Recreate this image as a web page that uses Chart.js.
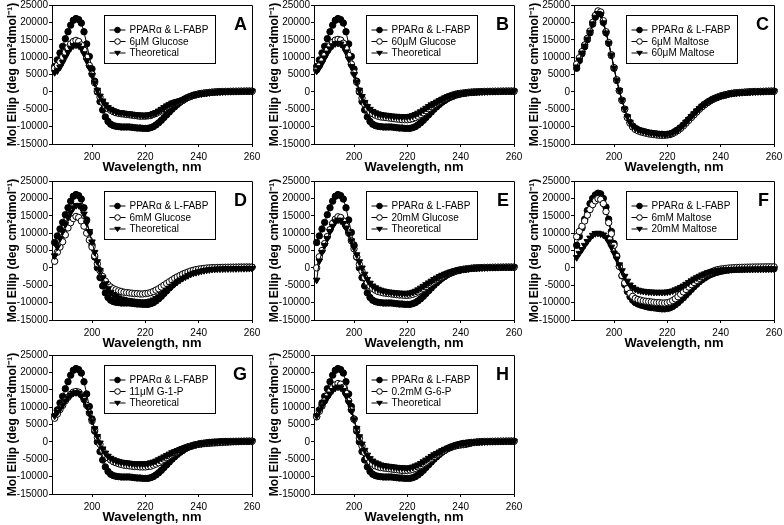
<!DOCTYPE html>
<html>
<head>
<meta charset="utf-8">
<script src="https://cdn.jsdelivr.net/npm/chart.js@4/dist/chart.umd.min.js"></script>
<style>
  body { margin: 0; background: #fff; width: 784px; height: 525px; position: relative; overflow: hidden; }
  .panel { position: absolute; width: 262px; height: 175px; }
</style>
</head>
<body>
<script>
// wavelength, nm (one reading per nm)
const wavelength = [
  186, 187, 188, 189, 190, 191, 192, 193, 194, 195, 196, 197, 198, 199, 200,
  201, 202, 203, 204, 205, 206, 207, 208, 209, 210, 211, 212, 213, 214, 215,
  216, 217, 218, 219, 220, 221, 222, 223, 224, 225, 226, 227, 228, 229, 230,
  231, 232, 233, 234, 235, 236, 237, 238, 239, 240, 241, 242, 243, 244, 245,
  246, 247, 248, 249, 250, 251, 252, 253, 254, 255, 256, 257, 258, 259, 260
];
const xTicks = [200, 220, 240, 260];
const yTicks = { min: -15000, max: 25000, step: 5000 };

// PPARα & L-FABP alone (panels A, B, D, E, G, H)
const complexAlone = [
  7300, 9200, 11200, 13100, 15300, 17300, 19200, 20600, 21100, 20800, 19800, 17300, 13800, 10200, 6600,
  3100, 0, -2800, -5200, -7200, -8500, -9300, -9700, -9900, -10000, -10100, -10100, -10100, -10100, -10200,
  -10300, -10400, -10400, -10500, -10500, -10500, -10300, -10000, -9500, -8900, -8200, -7400, -6600, -5800, -5000,
  -4300, -3600, -3000, -2500, -2000, -1600, -1300, -1000, -800, -600, -450, -350, -250, -150, -100,
  -50, 0, 50, 80, 100, 120, 140, 150, 160, 170, 180, 190, 200, 200, 200
];
// A
const glucose6uM = [
  6800, 7600, 8700, 10000, 11400, 12700, 13800, 14500, 14800, 14500, 13500, 12000, 10000, 7600, 5100,
  2600, 300, -1500, -3000, -4000, -4800, -5300, -5700, -6000, -6200, -6300, -6400, -6500, -6600, -6700,
  -6800, -6900, -7000, -7000, -7000, -6900, -6800, -6500, -6200, -5800, -5300, -4800, -4300, -3800, -3400,
  -3100, -2900, -2700, -2400, -2000, -1600, -1300, -1000, -800, -600, -500, -400, -300, -200, -100,
  -50, 0, 50, 80, 100, 120, 140, 150, 160, 170, 180, 190, 200, 200, 200
];
const theoryA = [
  5600, 6100, 7100, 8500, 10000, 11400, 12600, 13300, 13500, 13300, 12500, 11000, 9000, 7000, 4800,
  2600, 500, -1200, -2600, -3700, -4500, -5000, -5400, -5700, -5900, -6000, -6100, -6200, -6300, -6400,
  -6500, -6600, -6600, -6700, -6700, -6600, -6500, -6200, -5900, -5500, -5000, -4500, -4000, -3600, -3200,
  -3000, -2800, -2600, -2300, -1900, -1500, -1200, -950, -750, -600, -500, -400, -300, -200, -100,
  -50, 0, 50, 80, 100, 120, 140, 150, 160, 170, 180, 190, 200, 200, 200
];
// B
const glucose60uM = [
  6300, 7500, 9000, 10500, 12000, 13300, 14300, 14900, 15100, 14900, 14000, 12500, 10500, 8000, 5500,
  2800, 300, -1800, -3500, -4800, -5700, -6300, -6700, -7000, -7200, -7300, -7400, -7500, -7600, -7700,
  -7800, -7900, -8000, -8000, -8000, -7900, -7700, -7400, -7000, -6500, -6000, -5400, -4800, -4200, -3700,
  -3200, -2700, -2300, -1900, -1500, -1200, -900, -700, -500, -400, -300, -200, -100, -50, 0,
  30, 60, 80, 100, 120, 140, 150, 160, 170, 180, 190, 200, 200, 200, 200
];
const theoryB = [
  6000, 7000, 8300, 9800, 11200, 12400, 13300, 13900, 14000, 13800, 13000, 11500, 9500, 7300, 5000,
  2700, 500, -1300, -3000, -4200, -5000, -5600, -6000, -6300, -6500, -6600, -6700, -6800, -6900, -7000,
  -7000, -7100, -7100, -7100, -7100, -7000, -6800, -6500, -6100, -5700, -5200, -4700, -4200, -3700, -3300,
  -2900, -2500, -2100, -1700, -1400, -1100, -900, -700, -500, -400, -300, -200, -100, -50, 0,
  30, 60, 80, 100, 120, 140, 150, 160, 170, 180, 190, 200, 200, 200, 200
];
// C
const complexC = [
  6800, 9000, 11000, 13000, 15000, 17000, 19500, 21500, 22800, 22500, 20000, 17000, 14000, 10500, 6800,
  3300, 300, -2500, -5000, -7200, -8800, -9900, -10500, -10900, -11200, -11400, -11600, -11800, -11900, -12000,
  -12100, -12200, -12200, -12300, -12200, -12100, -11800, -11400, -10900, -10300, -9600, -8800, -8000, -7200, -6400,
  -5600, -4900, -4200, -3600, -3100, -2600, -2100, -1800, -1500, -1200, -1000, -800, -600, -450, -350,
  -250, -200, -150, -100, -50, 0, 50, 80, 100, 120, 140, 160, 180, 200, 200
];
const maltose6uM = [
  8000, 9800, 11600, 13500, 15400, 17500, 20000, 22000, 23300, 23000, 20500, 17300, 14200, 10700, 7000,
  3500, 400, -2400, -5000, -7400, -9000, -10100, -10800, -11200, -11500, -11700, -11900, -12100, -12200, -12300,
  -12400, -12500, -12500, -12500, -12400, -12300, -12000, -11600, -11100, -10500, -9800, -9000, -8200, -7400, -6600,
  -5800, -5000, -4300, -3700, -3100, -2600, -2200, -1800, -1500, -1200, -1000, -800, -600, -450, -350,
  -250, -200, -150, -100, -50, 0, 50, 80, 100, 120, 140, 160, 180, 200, 200
];
const maltose60uM = [
  7200, 9200, 11200, 13200, 15200, 17200, 19600, 21500, 22600, 22300, 19900, 17000, 14000, 10600, 6900,
  3400, 400, -2400, -4900, -7100, -8700, -9800, -10400, -10800, -11100, -11300, -11500, -11700, -11800, -11900,
  -12000, -12100, -12100, -12200, -12100, -12000, -11700, -11300, -10800, -10200, -9500, -8700, -7900, -7100, -6300,
  -5500, -4800, -4100, -3500, -3000, -2500, -2100, -1800, -1500, -1200, -1000, -800, -600, -450, -350,
  -250, -200, -150, -100, -50, 0, 50, 80, 100, 120, 140, 160, 180, 200, 200
];
// D
const glucose6mM = [
  1900, 4500, 6000, 7500, 9500, 11500, 13000, 14200, 14800, 14500, 13500, 12000, 10000, 8000, 6000,
  3500, 1200, -800, -2500, -3800, -4800, -5500, -6000, -6300, -6600, -6800, -7000, -7100, -7200, -7300,
  -7400, -7400, -7500, -7500, -7400, -7300, -7100, -6800, -6400, -6000, -5500, -5000, -4500, -4000, -3500,
  -3000, -2600, -2200, -1800, -1500, -1200, -900, -700, -500, -350, -250, -150, -50, 0, 50,
  80, 100, 120, 140, 150, 160, 170, 180, 190, 200, 200, 200, 200, 200, 200
];
const theoryD = [
  3500, 6000, 8500, 10500, 12500, 14500, 16000, 17300, 18000, 18000, 17200, 15500, 13000, 10500, 7500,
  4500, 1800, -700, -2800, -4600, -6000, -7000, -7700, -8200, -8600, -8900, -9100, -9300, -9400, -9500,
  -9600, -9700, -9800, -9800, -9800, -9700, -9500, -9200, -8800, -8300, -7700, -7100, -6400, -5800, -5200,
  -4600, -4000, -3500, -3000, -2600, -2200, -1800, -1500, -1300, -1100, -900, -750, -600, -500, -400,
  -350, -300, -280, -260, -240, -220, -200, -200, -180, -160, -150, -140, -130, -120, -100
];
// E
const glucose20mM = [
  0, 3200, 5000, 7000, 9000, 11000, 12800, 14000, 14700, 14500, 13500, 12000, 10000, 7800, 5500,
  3200, 1000, -1000, -2800, -4200, -5200, -5900, -6400, -6800, -7000, -7200, -7300, -7400, -7500, -7600,
  -7700, -7800, -7800, -7900, -7900, -7800, -7600, -7300, -6900, -6400, -5900, -5400, -4800, -4300, -3800,
  -3300, -2800, -2400, -2000, -1700, -1400, -1100, -900, -700, -500, -400, -300, -200, -100, 0,
  30, 60, 80, 100, 120, 140, 150, 160, 170, 180, 190, 200, 200, 200, 200
];
const theoryE = [
  -3500, 2000, 4500, 6500, 8500, 10500, 12000, 13300, 13800, 13600, 12800, 11500, 9800, 7800, 5800,
  3800, 1800, 0, -1800, -3300, -4400, -5200, -5700, -6100, -6400, -6600, -6800, -6900, -7000, -7100,
  -7200, -7200, -7300, -7300, -7300, -7200, -7000, -6700, -6300, -5800, -5300, -4800, -4300, -3800, -3300,
  -2900, -2500, -2100, -1800, -1500, -1200, -1000, -800, -600, -500, -400, -300, -200, -100, 0,
  30, 60, 80, 100, 120, 140, 150, 160, 170, 180, 190, 200, 200, 200, 200
];
// F
const complexF = [
  6500, 9000, 11500, 14000, 16500, 18500, 20000, 21000, 21500, 21300, 20000, 17500, 14000, 10500, 7000,
  3500, 500, -2300, -4800, -6800, -8300, -9300, -10000, -10400, -10700, -10900, -11100, -11300, -11400, -11500,
  -11600, -11700, -11800, -11800, -11700, -11500, -11100, -10600, -10000, -9300, -8600, -7800, -7000, -6200, -5400,
  -4700, -4000, -3400, -2900, -2400, -2000, -1700, -1400, -1200, -1000, -850, -700, -600, -500, -450,
  -400, -380, -360, -340, -320, -300, -300, -280, -280, -260, -260, -250, -250, -250, -250
];
const maltose6mM = [
  9000, 10500, 12000, 13500, 15200, 16800, 18200, 19300, 19900, 19700, 18500, 16200, 13000, 9800, 6500,
  3300, 400, -2200, -4300, -6000, -7300, -8200, -8800, -9100, -9300, -9500, -9600, -9700, -9800, -9900,
  -10000, -10000, -10100, -10100, -10000, -9800, -9400, -8900, -8300, -7600, -6900, -6200, -5500, -4800, -4200,
  -3600, -3000, -2500, -2000, -1600, -1300, -1000, -700, -500, -350, -250, -150, -50, 0, 50,
  100, 130, 160, 180, 200, 220, 240, 250, 260, 270, 280, 290, 300, 300, 300
];
const maltose20mM = [
  3000, 4200, 5300, 6500, 7600, 8600, 9400, 9900, 10000, 9800, 9500, 8800, 7500, 6000, 4300,
  2600, 900, -800, -2400, -3800, -4900, -5600, -6100, -6400, -6600, -6700, -6800, -6900, -6900, -7000,
  -7000, -7000, -7000, -7000, -6900, -6800, -6600, -6300, -6000, -5600, -5200, -4700, -4200, -3700, -3200,
  -2800, -2400, -2000, -1700, -1400, -1200, -1000, -850, -700, -600, -550, -500, -450, -420, -400,
  -380, -360, -350, -340, -330, -320, -310, -300, -300, -290, -280, -270, -260, -250, -250
];
// G
const g1p11uM = [
  6800, 8000, 9300, 10500, 11800, 12800, 13700, 14300, 14500, 14300, 13500, 12200, 10500, 8300, 6000,
  3600, 1300, -700, -2400, -3700, -4600, -5200, -5700, -6000, -6300, -6500, -6700, -6800, -6900, -7000,
  -7100, -7100, -7200, -7200, -7200, -7100, -7000, -6700, -6400, -6000, -5500, -5000, -4500, -4000, -3500,
  -3100, -2700, -2300, -2000, -1700, -1400, -1200, -1000, -800, -700, -600, -500, -450, -400, -350,
  -300, -250, -200, -150, -100, -50, 0, 50, 80, 100, 120, 140, 160, 180, 200
];
const theoryG = [
  7500, 8500, 9500, 10600, 11700, 12700, 13500, 14000, 14200, 14000, 13300, 12000, 10300, 8200, 6000,
  3800, 1600, -300, -2000, -3200, -4100, -4700, -5100, -5400, -5600, -5800, -5900, -6000, -6100, -6200,
  -6300, -6300, -6300, -6300, -6300, -6200, -6000, -5800, -5500, -5100, -4700, -4300, -3900, -3500, -3100,
  -2800, -2500, -2200, -1900, -1600, -1400, -1200, -1000, -800, -600, -500, -400, -300, -200, -100,
  -50, 0, 50, 80, 100, 120, 140, 150, 160, 170, 180, 190, 200, 200, 200
];
// H
const g6p02mM = [
  7200, 8800, 10300, 11800, 13200, 14500, 15600, 16400, 16800, 16600, 15700, 14000, 11800, 9200, 6500,
  3700, 1100, -1200, -3100, -4600, -5700, -6400, -6900, -7200, -7400, -7500, -7600, -7700, -7800, -7900,
  -8000, -8100, -8200, -8200, -8200, -8100, -7900, -7600, -7200, -6800, -6300, -5800, -5200, -4700, -4200,
  -3700, -3200, -2800, -2400, -2000, -1700, -1400, -1200, -1000, -900, -800, -700, -500, -300, -200,
  -100, 0, 50, 80, 100, 120, 140, 150, 160, 170, 180, 190, 200, 200, 200
];
const theoryH = [
  7500, 9000, 10300, 11500, 12700, 13800, 14800, 15500, 15800, 15600, 14800, 13300, 11300, 8900, 6400,
  3900, 1500, -600, -2400, -3800, -4800, -5500, -6000, -6300, -6600, -6800, -6900, -7000, -7100, -7200,
  -7300, -7400, -7400, -7500, -7500, -7400, -7200, -6900, -6600, -6200, -5700, -5200, -4700, -4200, -3700,
  -3300, -2900, -2500, -2100, -1800, -1500, -1200, -1000, -800, -600, -500, -400, -300, -200, -100,
  -50, 0, 50, 80, 100, 120, 140, 150, 160, 170, 180, 190, 200, 200, 200
];

const panelLetters = ['A', 'B', 'C', 'D', 'E', 'F', 'G', 'H'];
const legendA = ['PPARα & L-FABP', '6μM Glucose', 'Theoretical'];
const legendB = ['PPARα & L-FABP', '60μM Glucose', 'Theoretical'];
const legendC = ['PPARα & L-FABP', '6μM Maltose', '60μM Maltose'];
const legendD = ['PPARα & L-FABP', '6mM Glucose', 'Theoretical'];
const legendE = ['PPARα & L-FABP', '20mM Glucose', 'Theoretical'];
const legendF = ['PPARα & L-FABP', '6mM Maltose', '20mM Maltose'];
const legendG = ['PPARα & L-FABP', '11μM G-1-P', 'Theoretical'];
const legendH = ['PPARα & L-FABP', '0.2mM G-6-P', 'Theoretical'];

const panels = [
  { legend: legendA, series: [complexAlone, glucose6uM, theoryA] },
  { legend: legendB, series: [complexAlone, glucose60uM, theoryB] },
  { legend: legendC, series: [complexC, maltose6uM, maltose60uM] },
  { legend: legendD, series: [complexAlone, glucose6mM, theoryD] },
  { legend: legendE, series: [complexAlone, glucose20mM, theoryE] },
  { legend: legendF, series: [complexF, maltose6mM, maltose20mM] },
  { legend: legendG, series: [complexAlone, g1p11uM, theoryG] },
  { legend: legendH, series: [complexAlone, g6p02mM, theoryH] },
];

const FONT = 'Arial, "Liberation Sans", Helvetica, sans-serif';
Chart.defaults.font.family = FONT;
Chart.defaults.color = '#000';

const markers = [
  { pointStyle: 'circle', radius: 3.2, fill: '#000', rotation: 0 },
  { pointStyle: 'circle', radius: 3.2, fill: '#fff', rotation: 0 },
  { pointStyle: 'triangle', radius: 3.8, fill: '#000', rotation: 180 },
];

function drawMarker(ctx, m, x, y, r) {
  ctx.beginPath();
  if (m.pointStyle === 'circle') {
    ctx.arc(x, y, r, 0, Math.PI * 2);
  } else {
    ctx.moveTo(x - r, y - r * 0.6);
    ctx.lineTo(x + r, y - r * 0.6);
    ctx.lineTo(x, y + r * 0.9);
    ctx.closePath();
  }
  ctx.fillStyle = m.fill;
  ctx.fill();
  ctx.stroke();
}

// frame, panel letter and boxed legend inside the plot
const panelDecor = {
  id: 'panelDecor',
  afterDraw(chart, args, opts) {
    const { ctx, chartArea: a } = chart;
    ctx.save();
    ctx.strokeStyle = '#000';
    ctx.lineWidth = 1;
    ctx.beginPath();
    ctx.moveTo(a.left, a.top + 0.5);
    ctx.lineTo(a.right + 0.5, a.top + 0.5);
    ctx.lineTo(a.right + 0.5, a.bottom);
    ctx.stroke();

    ctx.fillStyle = '#000';
    ctx.font = 'bold 18px ' + FONT;
    ctx.textAlign = 'right';
    ctx.textBaseline = 'top';
    ctx.fillText(opts.letter, a.right - 5, a.top + 11);

    const bx = Math.round(a.left + 52) + 0.5, by = Math.round(a.top + 10) + 0.5;
    ctx.strokeRect(bx, by, 111, 48);
    ctx.font = '10px ' + FONT;
    ctx.textAlign = 'left';
    ctx.textBaseline = 'middle';
    opts.labels.forEach((label, i) => {
      const y = by + 14.5 + i * 11.5;
      ctx.beginPath();
      ctx.moveTo(bx + 5, y);
      ctx.lineTo(bx + 21, y);
      ctx.stroke();
      drawMarker(ctx, markers[i], bx + 13, y, 2.8);
      ctx.fillStyle = '#000';
      ctx.fillText(label, bx + 25, y + 0.5);
    });
    ctx.restore();
  }
};

const colLeft = [0, 262, 522];
const rowTop = [0, 176, 350];

panels.forEach((p, k) => {
  const div = document.createElement('div');
  div.className = 'panel';
  div.style.left = colLeft[k % 3] + 'px';
  div.style.top = rowTop[Math.floor(k / 3)] + 'px';
  const canvas = document.createElement('canvas');
  canvas.width = 262;
  canvas.height = 175;
  div.appendChild(canvas);
  document.body.appendChild(div);

  new Chart(canvas, {
    type: 'line',
    data: {
      datasets: p.series.map((values, i) => ({
        label: p.legend[i],
        data: wavelength.map((w, j) => ({ x: w, y: values[j] })),
        borderColor: '#000',
        borderWidth: 1,
        pointStyle: markers[i].pointStyle,
        pointRadius: markers[i].radius,
        pointRotation: markers[i].rotation,
        pointBackgroundColor: markers[i].fill,
        pointBorderColor: '#000',
        pointBorderWidth: 1,
        tension: 0,
        clip: false,
        order: 3 - i,
      })),
    },
    options: {
      responsive: false,
      animation: false,
      devicePixelRatio: 1,
      layout: { padding: { top: 5, right: 10, left: 0, bottom: 0 } },
      plugins: {
        legend: { display: false },
        tooltip: { enabled: false },
        panelDecor: { letter: panelLetters[k], labels: p.legend },
      },
      scales: {
        x: {
          type: 'linear',
          min: 185,
          max: 260,
          afterBuildTicks: (axis) => { axis.ticks = xTicks.map((v) => ({ value: v })); },
          afterFit: (s) => { s.height = 31; s.paddingLeft = 0; s.paddingRight = 0; },
          ticks: { font: { size: 10 }, padding: 4, maxRotation: 0, callback: (v) => String(v) },
          grid: { drawOnChartArea: false, drawTicks: true, tickLength: 3, color: '#000' },
          border: { display: true, color: '#000', width: 1 },
          title: { display: true, text: 'Wavelength, nm', font: { size: 13, weight: 'bold' }, padding: { top: 0, bottom: 0 } },
        },
        y: {
          min: yTicks.min,
          max: yTicks.max,
          afterFit: (s) => { s.width = 52; s.paddingTop = 0; s.paddingBottom = 0; },
          ticks: { stepSize: yTicks.step, font: { size: 10 }, padding: 1, callback: (v) => String(v) },
          grid: { drawOnChartArea: false, drawTicks: true, tickLength: 3, color: '#000' },
          border: { display: true, color: '#000', width: 1 },
          title: { display: true, text: 'Mol Ellip (deg cm²dmol⁻¹)', font: { size: 12, weight: 'bold' }, padding: { top: 5, bottom: 0 } },
        },
      },
    },
    plugins: [panelDecor],
  });
});
</script>
</body>
</html>
